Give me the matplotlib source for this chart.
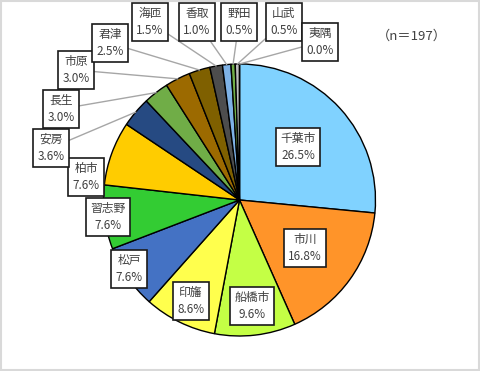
import numpy as np
import matplotlib
matplotlib.use('Agg')
import matplotlib.pyplot as plt
from matplotlib.patches import Rectangle

plt.rcParams['font.family'] = ['Noto Sans CJK JP', 'DejaVu Sans']

# data
areas = ['千葉市', '市川', '船橋市', '印旛', '松戸', '習志野', '柏市', '安房',
         '長生', '市原', '君津', '海匝', '香取', '野田', '山武', '夷隅']
shares = [26.5, 16.8, 9.6, 8.6, 7.6, 7.6, 7.6, 3.6,
          3.0, 3.0, 2.5, 1.5, 1.0, 0.5, 0.5, 0.0]
n_total = 197

colors = ['#80D2FF', '#FF9429', '#C4FF45', '#FFFF4D', '#4472C4', '#33CC33',
          '#FFCC00', '#264A82', '#70AD47', '#9C6A00', '#7F6000', '#4D4D4D',
          '#7EB2E6', '#70AD47', '#BFBFBF', '#A6A6A6']

# label box centres in pixels (x, y from top)
label_px = [(298, 147), (305, 248), (252, 306), (191, 301), (129, 269),
            (108, 217), (86, 177), (51, 148), (61, 109), (76, 70),
            (110, 43), (150, 22), (197, 22), (239, 22), (284, 22), (320, 42)]

W, H = 480, 371
fig = plt.figure(figsize=(4.8, 3.71), dpi=100)
ax = fig.add_axes([0, 0, 1, 1])

cx, cy, r = 239.5, H - 200, 136
wedges, _ = ax.pie(shares, colors=colors, startangle=90, counterclock=False,
                   center=(cx, cy), radius=r, frame=True,
                   wedgeprops=dict(edgecolor='black', linewidth=1))
ax.set_xlim(0, W)
ax.set_ylim(0, H)
ax.set_aspect('equal')
ax.axis('off')

box = dict(boxstyle='square,pad=0.35', fc='white', ec='#1a1a1a', lw=1.2)
for i, (name, val) in enumerate(zip(areas, shares)):
    tx, ty = label_px[i][0], H - label_px[i][1]
    txt = f'{name}\n{val:.1f}%'
    if i >= 7:
        w = wedges[i]
        mid = np.deg2rad((w.theta1 + w.theta2) / 2)
        ex, ey = cx + r * np.cos(mid), cy + r * np.sin(mid)
        ax.annotate(txt, xy=(ex, ey), xytext=(tx, ty), ha='center', va='center',
                    fontsize=8.5, color='#404040', linespacing=1.45, bbox=box,
                    arrowprops=dict(arrowstyle='-', color='#A6A6A6', lw=1,
                                    shrinkA=0, shrinkB=0))
    else:
        ax.text(tx, ty, txt, ha='center', va='center', fontsize=8.5,
                color='#404040', linespacing=1.45, bbox=box)

ax.text(412, H - 36, f'（n＝{n_total}）', ha='center', va='center',
        fontsize=9.5, color='#404040')

fig.patches.append(Rectangle((0.002, 0.003), 0.995, 0.993, transform=fig.transFigure,
                             fill=False, ec='#D9D9D9', lw=1.5))

fig.savefig('out.png', dpi=100)
